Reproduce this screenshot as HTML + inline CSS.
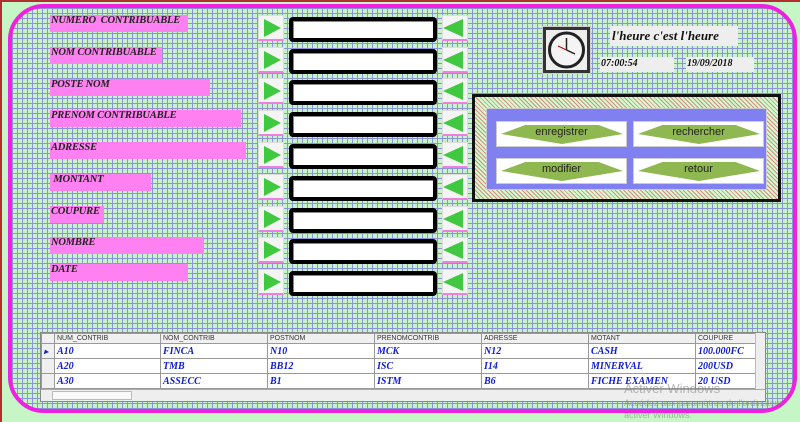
<!DOCTYPE html>
<html><head><style>
*{margin:0;padding:0;box-sizing:border-box}
body{width:800px;height:422px;overflow:hidden;background:#c6f5c6;position:relative;font-family:"Liberation Serif",serif}
.frame{position:absolute;left:0;top:0;width:800px;height:422px;border-top:2px solid #b03030;border-left:2px solid #b03030}
.main{position:absolute;left:8px;top:4px;width:789px;height:409px;border:4px solid #f020e0;border-radius:36px;overflow:hidden;
background-color:#c8f2c8;
background-image:repeating-linear-gradient(90deg,#8a95d8 0 1px,transparent 1px 5px),repeating-linear-gradient(0deg,#8a95d8 0 1px,transparent 1px 5px)}
.lbl{position:absolute;left:50px;height:17px;background:#ff80f0;font:italic bold 10.5px "Liberation Serif",serif;color:#222;padding:0 0 0 1px;white-space:nowrap;letter-spacing:-0.2px}
.ab{position:absolute;width:26px;height:26px;background:#f4f4f4;border:1px solid #ddd;border-bottom:2px solid #f080e0}
.ab.r::after{content:"";position:absolute;left:5px;top:3px;border-left:17px solid #40c840;border-top:9px solid transparent;border-bottom:9px solid transparent}
.ab.l::after{content:"";position:absolute;right:4px;top:3px;border-right:20px solid #40c840;border-top:9px solid transparent;border-bottom:9px solid transparent}
.tb{position:absolute;left:289px;width:148px;height:25px;border:4px solid #000;border-radius:4px;background:#fff;box-shadow:inset 1px 1px 0 #888}
.gb{position:absolute;background:#eee;font:italic bold 10px "Liberation Serif",serif;color:#111;white-space:nowrap}
.btn{position:absolute;width:131px;height:26px;background:#fff;border:1px solid #ccc}
.btn .d{position:absolute;left:4px;top:2px;width:122px;height:20px;background:#90b850;clip-path:polygon(0 50%,20% 5%,80% 5%,100% 50%,50% 100%)}
.btn span{position:absolute;left:0;right:0;top:4px;text-align:center;font:11px "Liberation Sans",sans-serif;color:#222}
table{border-collapse:collapse;font:italic bold 10px "Liberation Serif",serif;color:#1020d0}
td{border:1px solid #999;height:15px;padding-left:2px;background:#fff;white-space:nowrap}
th{border:1px solid #999;height:10px;font:7px "Liberation Sans",sans-serif;color:#333;text-align:left;padding-left:2px;background:#f0f0f0;font-weight:normal}
</style></head><body>
<div class="frame"></div>
<div class="main"></div>

<div class="lbl" style="top:15px;width:138px">NUMERO &nbsp;CONTRIBUABLE</div>
<div class="lbl" style="top:47px;width:112px">NOM CONTRIBUABLE</div>
<div class="lbl" style="top:79px;width:160px">POSTE NOM</div>
<div class="lbl" style="top:110px;width:191px">PRENOM CONTRIBUABLE</div>
<div class="lbl" style="top:142px;width:196px">ADRESSE</div>
<div class="lbl" style="top:174px;width:101px">&nbsp;MONTANT</div>
<div class="lbl" style="top:206px;width:54px">COUPURE</div>
<div class="lbl" style="top:237px;width:154px">NOMBRE</div>
<div class="lbl" style="top:264px;width:138px">DATE</div>

<div class="ab r" style="left:258px;top:15px"></div><div class="tb" style="top:17px"></div><div class="ab l" style="left:442px;top:15px"></div>
<div class="ab r" style="left:258px;top:47px"></div><div class="tb" style="top:49px"></div><div class="ab l" style="left:442px;top:47px"></div>
<div class="ab r" style="left:258px;top:78px"></div><div class="tb" style="top:80px"></div><div class="ab l" style="left:442px;top:78px"></div>
<div class="ab r" style="left:258px;top:110px"></div><div class="tb" style="top:112px"></div><div class="ab l" style="left:442px;top:110px"></div>
<div class="ab r" style="left:258px;top:142px"></div><div class="tb" style="top:144px"></div><div class="ab l" style="left:442px;top:142px"></div>
<div class="ab r" style="left:258px;top:174px"></div><div class="tb" style="top:176px"></div><div class="ab l" style="left:442px;top:174px"></div>
<div class="ab r" style="left:258px;top:206px"></div><div class="tb" style="top:208px"></div><div class="ab l" style="left:442px;top:206px"></div>
<div class="ab r" style="left:258px;top:237px"></div><div class="tb" style="top:239px"></div><div class="ab l" style="left:442px;top:237px"></div>
<div class="ab r" style="left:258px;top:269px"></div><div class="tb" style="top:271px"></div><div class="ab l" style="left:442px;top:269px"></div>

<!-- clock -->
<div style="position:absolute;left:543px;top:27px;width:47px;height:46px;background:#eee;border:3px solid #333;box-shadow:0 0 0 1px #ccc">
<svg width="41" height="40" viewBox="0 0 41 40"><circle cx="20.5" cy="20" r="17" fill="#f4f4f4" stroke="#222" stroke-width="3"/><line x1="20.5" y1="20" x2="20.5" y2="8" stroke="#222" stroke-width="1.5"/><line x1="20.5" y1="20" x2="29" y2="24" stroke="#222" stroke-width="1.5"/><line x1="20.5" y1="20" x2="12" y2="16" stroke="#c00" stroke-width="1"/></svg></div>
<div class="gb" style="left:610px;top:26px;width:128px;height:20px;font-size:13px;padding:2px 0 0 2px">l'heure c'est l'heure</div>
<div class="gb" style="left:600px;top:57px;width:74px;height:15px;padding:1px 0 0 1px">07:00:54</div>
<div class="gb" style="left:686px;top:57px;width:68px;height:15px;padding:1px 0 0 1px">19/09/2018</div>

<!-- button panel -->
<div style="position:absolute;left:472px;top:94px;width:309px;height:108px;border:3px solid #111;background:repeating-linear-gradient(45deg,#d88 0 1px,#cfc 1px 3px)">
<div style="position:absolute;left:11px;top:11px;width:281px;height:82px;background:#8080f0;border:1px solid #ccc"></div></div>
<div class="btn" style="left:496px;top:121px"><div class="d"></div><span>enregistrer</span></div>
<div class="btn" style="left:633px;top:121px"><div class="d"></div><span>rechercher</span></div>
<div class="btn" style="left:496px;top:158px"><div class="d"></div><span>modifier</span></div>
<div class="btn" style="left:633px;top:158px"><div class="d"></div><span>retour</span></div>

<!-- grid -->
<div style="position:absolute;left:40px;top:332px;width:726px;height:70px;background:#f0f0f0;border:1px solid #888;overflow:hidden">
<table style="position:absolute;left:0;top:0;width:716px">
<tr><th style="width:13px;background:#f0f0f0"></th><th style="width:106px">NUM_CONTRIB</th><th style="width:107px">NOM_CONTRIB</th><th style="width:107px">POSTNOM</th><th style="width:107px">PRENOMCONTRIB</th><th style="width:107px">ADRESSE</th><th style="width:107px">MOTANT</th><th>COUPURE</th></tr>
<tr><td style="background:#f0f0f0;color:#1020d0;font-size:8px">▸</td><td>A10</td><td>FINCA</td><td>N10</td><td>MCK</td><td>N12</td><td>CASH</td><td>100.000FC</td></tr>
<tr><td style="background:#f0f0f0"></td><td>A20</td><td>TMB</td><td>BB12</td><td>ISC</td><td>I14</td><td>MINERVAL</td><td>200USD</td></tr>
<tr><td style="background:#f0f0f0"></td><td>A30</td><td>ASSECC</td><td>B1</td><td>ISTM</td><td>B6</td><td>FICHE EXAMEN</td><td>20 USD</td></tr>
</table>
<div style="position:absolute;right:0;top:0;width:10px;height:56px;background:#eee;border-left:1px solid #bbb"></div>
<div style="position:absolute;left:0;bottom:0;width:724px;height:12px;background:#eee;border-top:1px solid #aaa"><div style="position:absolute;left:11px;top:1px;width:80px;height:9px;background:#fafafa;border:1px solid #bbb"></div></div>
</div>
<div style="position:absolute;left:624px;top:381px;font:13px 'Liberation Sans',sans-serif;color:rgba(120,120,120,.5)">Activer Windows</div>
<div style="position:absolute;left:624px;top:398px;font:9px 'Liberation Sans',sans-serif;color:rgba(120,120,120,.5)">Accédez aux paramètres de l'ordinateur</div>
<div style="position:absolute;left:624px;top:410px;font:9px 'Liberation Sans',sans-serif;color:rgba(120,120,120,.5)">activer Windows.</div>
</body></html>
